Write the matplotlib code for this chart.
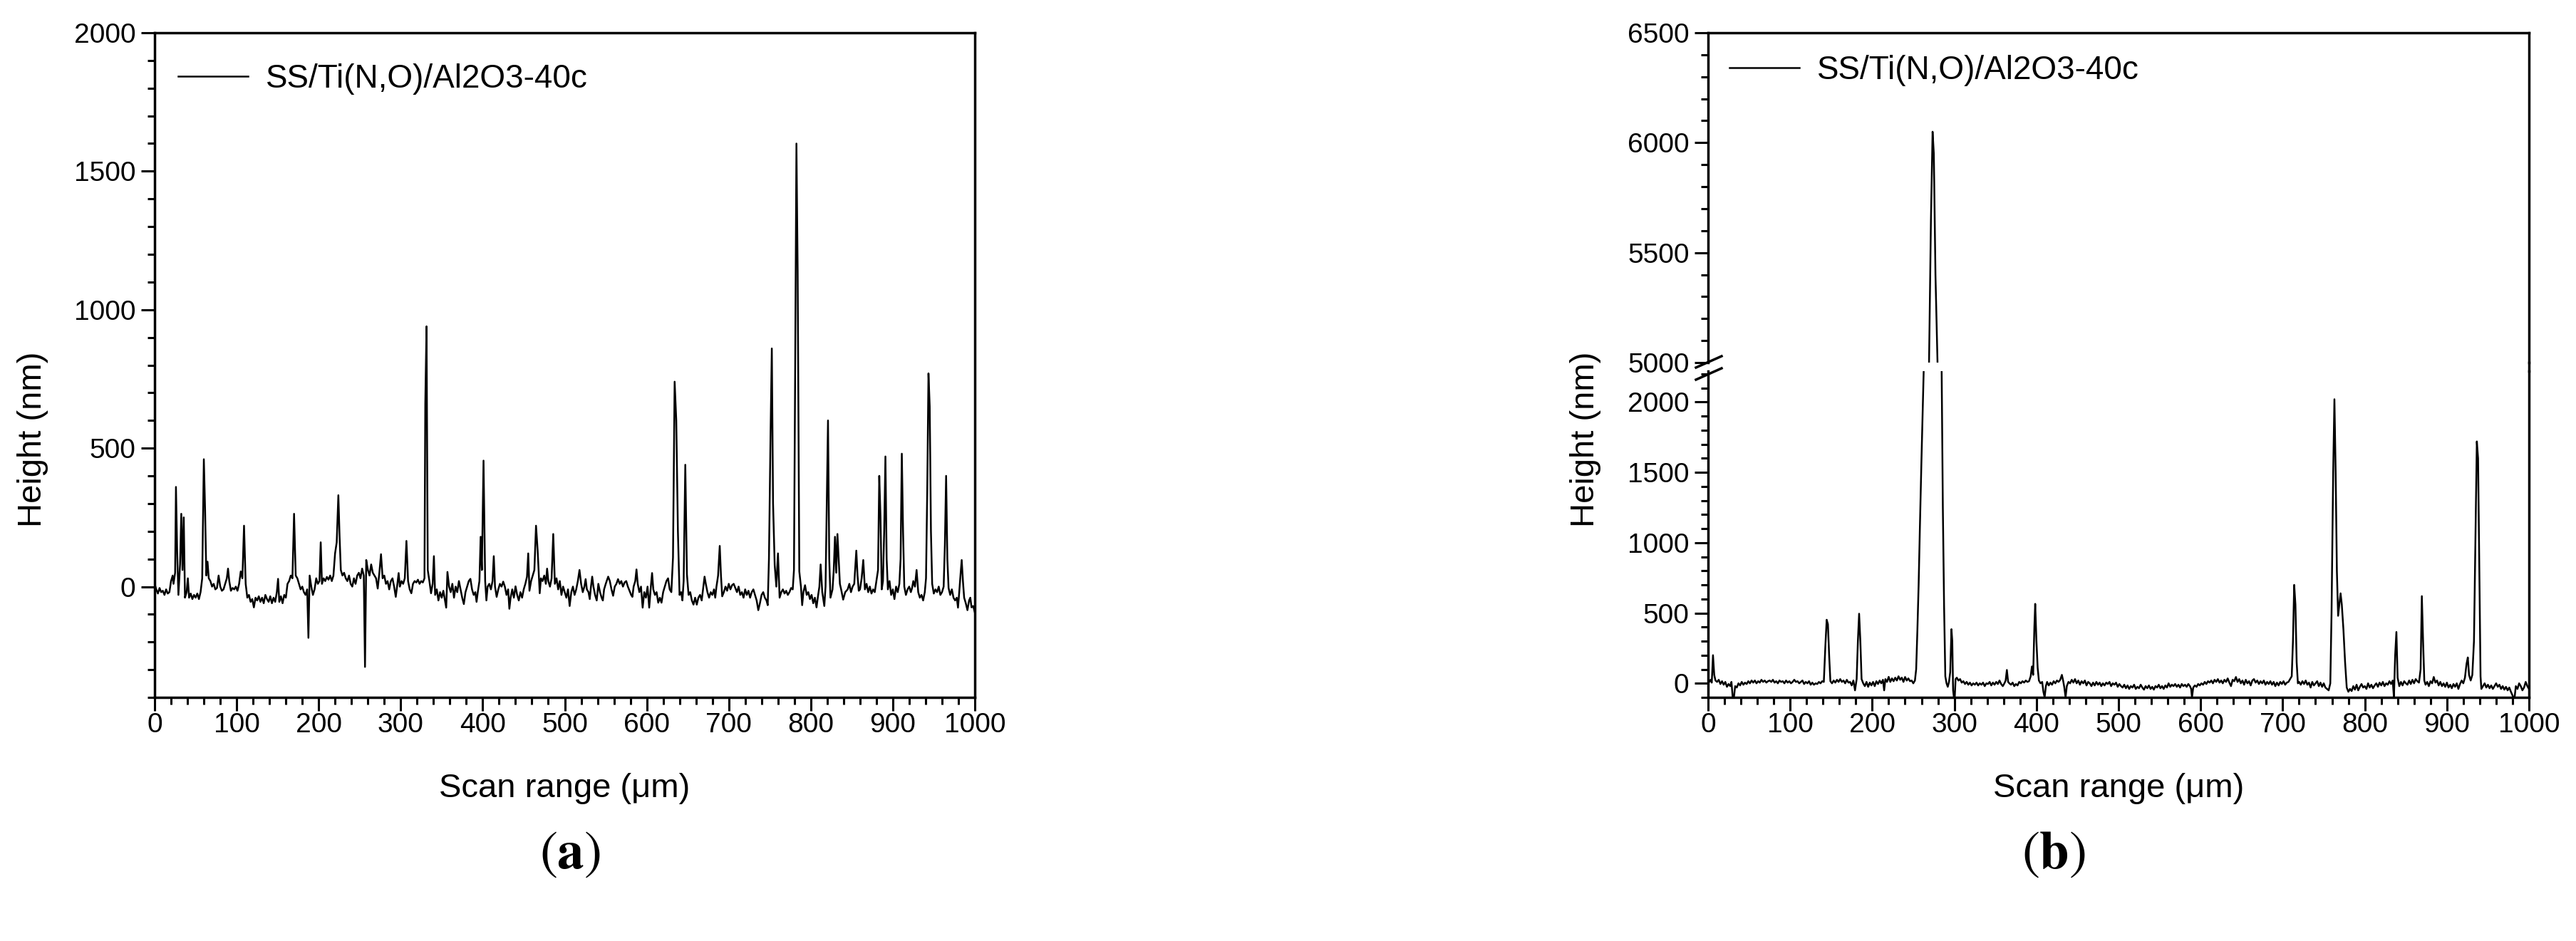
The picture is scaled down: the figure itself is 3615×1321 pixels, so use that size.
import matplotlib
matplotlib.use("Agg")
import matplotlib.pyplot as plt
from matplotlib.lines import Line2D
from matplotlib.ticker import MultipleLocator

plt.rcParams['font.family'] = ['Liberation Sans', 'DejaVu Sans']

# ---- panel (a): profile, scan position (um) / height (nm)
scan_a = [0, 2, 4, 6, 8, 10, 12, 14, 16, 18, 20, 22, 23, 25, 26,
          27.5, 29, 31, 32.5, 34, 35.5, 37, 39, 40.5, 42, 44, 46, 48, 50, 52,
          54, 56, 58, 60, 61.5, 63, 64.5, 66, 68, 70, 72, 74, 76, 78, 80,
          82, 84, 86, 88, 89.5, 91, 93, 95, 97, 99, 101, 103, 105, 107, 109,
          111, 113, 115, 117, 119, 121, 123, 125, 127, 129, 131, 133, 135, 137, 139,
          141, 143, 145, 147, 149, 150.5, 152, 154, 156, 158, 160, 162, 164, 166, 168,
          170, 172, 174, 176, 178, 180, 182, 184, 186, 187.5, 189, 191, 193, 195, 197,
          199, 201, 202.5, 204, 206, 208, 210, 212, 214, 216, 218, 220, 222, 224, 225.5,
          227, 229, 231, 233, 235, 237, 239, 241, 243, 245, 247, 249, 251, 253, 255,
          256.5, 258, 260, 262, 264, 266, 268, 270, 272, 274, 276, 278, 280, 282, 284,
          286, 288, 290, 292, 294, 296, 297.5, 299, 301, 303, 305, 307, 309, 311, 313,
          315, 317, 319, 321, 323, 325, 327, 329, 330, 331.5, 333, 335, 337, 339, 340.5,
          342, 344, 346, 348, 350, 352, 354, 355.5, 357, 359, 361, 363, 365, 367, 369,
          371, 373, 375, 377, 379, 381, 383, 385, 387, 389, 391, 392.5, 394, 396, 397.5,
          399, 401, 403, 404.5, 406, 408, 410, 412, 413.5, 415, 417, 419, 421, 423, 425,
          427, 429, 431, 432.5, 434, 436, 438, 440, 442, 444, 446, 448, 450, 452, 454,
          455.5, 457, 459, 461, 463, 465, 467, 469.5, 471, 473, 475, 477, 478.5, 480, 482,
          484, 486, 488, 490, 492, 494, 496, 498, 500, 502, 504, 506, 508, 510, 512,
          514, 516, 518, 520, 522, 524, 525.5, 527, 529, 530.5, 532, 533.5, 535, 537, 539,
          541, 543, 545, 546.5, 548, 550, 553, 555, 557, 559, 561, 563, 565, 567, 569,
          571, 573, 575, 577, 579, 581, 582.5, 584, 586, 587.5, 589, 591, 593, 595, 597,
          599, 601, 603, 605, 606.5, 608, 610, 612, 614, 616, 618, 620, 622, 624, 626,
          628, 630, 632, 634, 636, 638, 640, 642, 643.5, 645, 647, 649, 651, 653, 655,
          657, 659, 661, 663, 665, 667, 669, 670.5, 672, 674, 676, 678, 680, 682, 683.5,
          685, 687, 689, 690.5, 692, 694, 696, 698, 700, 702, 704, 706, 708, 710, 712,
          714, 716, 718, 720, 722, 724, 726, 728, 730, 732, 734, 736, 738, 740, 742,
          744, 746, 747.5, 749, 751, 752.5, 754, 756, 758, 760, 762, 764, 766, 768, 770,
          772, 774, 776, 778, 779.5, 781, 782.5, 784, 786, 788, 789.5, 791, 793, 795, 797,
          799, 801, 803, 805, 807, 809, 810.5, 812, 814, 816.5, 818, 819.5, 821, 822.5, 824,
          826.5, 828, 829.5, 831, 832.5, 834, 835.5, 837, 839.5, 842, 845, 847, 849, 851, 853,
          855.5, 857, 858.5, 860, 862, 864, 866, 868, 870, 872, 874, 876, 878, 880, 882,
          883.5, 885, 886.5, 888, 889.5, 891, 892.5, 894, 896, 898, 900, 902, 904, 906, 908,
          909.5, 911, 912.5, 914, 916, 918, 920, 922, 923.5, 925, 927, 929, 931, 933, 935,
          937, 939, 940.5, 942, 943.5, 945, 946.5, 948, 950, 952, 954, 956, 958, 960, 962,
          963.5, 965, 966.5, 968, 970, 972, 974, 976, 978, 979.5, 981, 982.5, 984, 985.5, 987,
          989, 991, 993, 994.5, 996, 998, 1000]
height_a = [10, -10, -25, -5, -20, -15, -30, -10, -25, -20, 20, 40, 10, 50, 360,
            120, -30, 80, 263, 60, 250, -40, -20, 30, -40, -25, -45, -30, -40, -25,
            -45, -20, 30, 460, 280, 40, 90, 30, 20, 0, 10, -10, -5, 40, 0,
            -15, -10, 10, 30, 65, 20, -15, -5, -10, 0, -15, 10, 55, 30, 220,
            10, -40, -30, -55, -45, -75, -40, -50, -35, -55, -40, -60, -30, -45, -55,
            -35, -60, -40, -55, -20, 28, -55, -35, -60, -30, -40, 10, 20, 40, 30,
            263, 40, 30, 10, -10, 0, -20, -30, -10, -185, 40, 0, -30, -10, 30,
            10, 20, 160, 10, 30, 20, 35, 25, 40, 20, 40, 120, 160, 330, 180,
            60, 40, 50, 30, 20, 40, 10, 0, 30, 10, 40, 50, 30, 65, 40,
            -290, 96, 60, 40, 80, 50, 40, 30, -7, 50, 117, 30, 40, 10, 20,
            -10, 20, 30, 0, -37, 10, 49, 0, 20, 10, 30, 165, 20, -10, -24,
            10, 20, 15, 25, 10, 20, 15, 30, 660, 940, 60, 20, -24, 10, 110,
            -30, -10, -50, -20, -40, -15, -50, -76, 53, 0, -20, 10, -40, 0, -20,
            20, -10, -40, -63, -20, 0, 20, 28, -10, -30, -20, -55, -20, 20, 180,
            60, 455, 20, -50, 0, 10, -10, 20, 110, 0, -37, -10, 10, 0, 18,
            0, -30, -10, -80, -40, -10, -40, 1, -30, -50, -20, -40, -10, 10, 36,
            120, -15, 20, 40, 60, 220, 130, -24, 30, 20, 40, 10, 65, 20, 0,
            30, 190, 10, 30, -10, 20, -30, 0, -20, -40, -10, -70, -20, 0, -30,
            -10, 20, 60, 10, -20, 0, 27, -10, -20, -45, 0, 36, 0, -30, -50,
            10, -20, -40, -50, -10, 10, 36, 20, -10, -33, 0, 10, 27, 10, 20,
            0, 15, 20, 0, -15, -30, -37, 0, 20, 62, 10, -20, 0, -76, -20,
            -40, 0, -76, 0, 49, -10, -30, -20, -58, -40, -58, -20, 0, 20, 30,
            -10, -20, 105, 740, 600, 200, -30, -20, -50, 20, 440, 44, -30, -20, -50,
            -65, -40, -65, -40, -30, -50, 0, 36, 10, -20, -40, -20, -30, -10, -40,
            0, 40, 147, 40, -35, -20, 0, -15, 10, -10, 5, 10, -5, -20, 0,
            -30, -20, -40, -10, -30, -15, -40, -20, -10, -30, -50, -85, -60, -30, -20,
            -40, -50, -67, 100, 560, 860, 300, 78, 0, 120, -40, -20, -10, -25, -15,
            -30, -20, -5, -10, 60, 800, 1600, 1140, 55, 0, -67, -20, 5, -30, -20,
            -45, -30, -60, -40, -75, -30, 0, 80, -20, -70, 0, 300, 600, 100, -40,
            -10, 60, 180, 50, 190, 100, 10, -10, -47, -20, -10, 10, -20, 0, 10,
            130, 40, -15, -10, 30, 96, -10, 10, -20, 0, -25, -10, -20, 20, 60,
            400, 250, -10, 20, 200, 470, 100, -10, 20, -30, -10, -45, 0, -20, 10,
            100, 480, 200, 0, -30, -10, 0, -20, -5, 20, 0, 60, -20, -40, -30,
            -50, -20, 30, 350, 770, 650, 200, 10, -25, -10, -20, 0, -30, -20, 0,
            150, 400, 100, -5, -30, -10, -40, -50, -40, -76, -20, 40, 96, 20, -40,
            -60, -85, -50, -40, -75, -70, -93]

# ---- panel (b)
scan_b = [0, 1.5, 3, 4.5, 6, 7.5, 9, 11, 13, 15, 17, 19, 21, 23, 25,
          27, 28.5, 30, 31.5, 33, 35, 37, 39, 41, 43, 45, 47, 49, 51, 53,
          55, 57, 59, 61, 63, 65, 67, 69, 71, 73, 75, 77, 79, 81, 83,
          85, 87, 89, 91, 93, 95, 97, 99, 101, 103, 105, 107, 109, 111, 113,
          115, 117, 119, 121, 123, 125, 127, 129, 131, 133, 135, 137, 139, 141, 143,
          144.5, 146, 147.5, 149, 151, 153, 155, 157, 159, 161, 163, 165, 167, 169, 171,
          173, 175, 177, 179, 181, 182.5, 184, 185.5, 187, 189, 191, 193, 195, 197, 199,
          201, 203, 205, 207, 209, 211, 213, 214.5, 216, 218, 220, 222, 224, 226, 228,
          230, 232, 234, 236, 238, 240, 242, 244, 246, 248, 250, 252, 253.5, 255, 256.5,
          258, 260, 261.5, 263, 269, 271.5, 273.5, 275, 277, 279.5, 282, 284.5, 286, 287.5, 289,
          290.5, 292, 293.5, 295, 296.5, 297.5, 298.5, 299.5, 300.5, 301.5, 303, 305, 307, 309, 311,
          313, 315, 317, 319, 321, 323, 325, 327, 329, 331, 333, 335, 337, 339, 341,
          343, 345, 347, 349, 351, 353, 355, 357, 359, 361, 362.5, 364, 365.5, 367, 369,
          371, 373, 375, 377, 379, 381, 383, 385, 387, 389, 391, 393, 394.5, 396, 397.5,
          398.5, 400, 401.5, 403, 405, 407, 408.5, 410, 411.5, 413, 415, 417, 419, 421, 423,
          425, 427, 429, 431, 432.5, 434, 435.5, 437, 439, 441, 443, 445, 447, 449, 451,
          453, 455, 457, 459, 461, 463, 465, 467, 469, 471, 473, 475, 477, 479, 481,
          483, 485, 487, 489, 491, 493, 495, 497, 499, 501, 503, 505, 507, 509, 511,
          513, 515, 517, 519, 521, 523, 525, 527, 529, 531, 533, 535, 537, 539, 541,
          543, 545, 547, 549, 551, 553, 555, 557, 559, 561, 563, 565, 567, 569, 571,
          573, 575, 577, 579, 581, 583, 585, 587, 588.5, 589.5, 591, 593, 595, 597, 599,
          601, 603, 605, 607, 609, 611, 613, 615, 617, 619, 621, 623, 625, 627, 629,
          631, 633, 635, 637, 639, 641, 643, 645, 647, 649, 651, 653, 655, 657, 659,
          661, 663, 665, 667, 669, 671, 673, 675, 677, 679, 681, 683, 685, 687, 689,
          691, 693, 695, 697, 699, 701, 703, 705, 707, 709, 711, 712.5, 714, 715.5, 717,
          718.5, 720, 722, 724, 726, 728, 730, 732, 734, 736, 738, 740, 742, 744, 746,
          748, 750, 752, 754, 756, 758, 759.5, 761.5, 763, 764.5, 766, 767.5, 769, 770.5, 772,
          774, 776, 778, 780, 782, 784, 786, 788, 790, 792, 794, 796, 798, 800, 802,
          804, 806, 808, 810, 812, 814, 816, 818, 820, 822, 824, 826, 828, 830, 832,
          834, 835.5, 837, 838.5, 840, 842, 844, 846, 848, 850, 852, 854, 856, 858, 860,
          862, 864, 866, 868, 869.5, 871, 872.5, 874, 876, 878, 880, 882, 884, 886, 888,
          890, 892, 894, 896, 898, 900, 902, 904, 906, 908, 910, 912, 914, 916, 918,
          920, 922, 924, 925.5, 927, 929, 931, 933, 935, 936.5, 938, 939.5, 941, 942, 944,
          946, 948, 950, 952, 954, 956, 958, 960, 962, 964, 966, 968, 970, 972, 974,
          976, 978, 979.5, 981, 982.5, 984, 986, 988, 990, 992, 994, 996, 998, 1000]
height_b = [40, 10, 25, 5, 200, 60, 20, 10, 25, -5, 15, -10, 10, -25, -5,
            -20, 10, -100, -100, -20, -30, 0, -15, 10, -10, 5, -5, 15, 0, 20,
            5, 20, 0, 15, 5, 25, 10, 20, 5, 15, 20, 10, 25, 5, 15,
            0, 20, 10, 15, 0, 20, 5, 15, 0, 10, 25, 10, 15, 0, 10,
            20, -5, 10, 0, 15, -10, 5, -10, 0, -5, 10, 0, 15, 10, 280,
            452, 420, 198, 15, 0, 20, 5, 25, 10, 30, 10, 20, 0, 25, 5,
            10, -15, 20, -50, 30, 300, 495, 300, 30, 0, -20, 10, -25, 5, -15,
            10, -20, 15, -5, 20, 0, 25, -50, 30, 10, 46, 10, 35, 15, 40,
            20, 50, 25, 40, 10, 45, 20, 35, 15, 20, 0, 20, 100, 380, 700,
            1100, 1600, 1950, 2300, 4950, 5650, 6050, 5950, 5400, 5000, 3800, 2250, 1250, 550, 50,
            0, -25, 10, 80, 385, 300, -50, -100, -100, 30, 40, 20, 30, 5, 15,
            -5, 10, -10, 5, -15, 0, -10, 5, -15, 0, -10, 5, -20, 0, -5,
            10, -15, 5, -10, 10, -5, 20, -5, -20, 0, 20, 95, 10, 0, -10,
            5, -20, -5, -15, 10, 0, 15, 5, 20, 10, 15, 50, 120, 60, 400,
            565, 300, 110, 20, 0, 10, -60, -100, -20, 10, -15, 5, -10, 15, 0,
            20, 10, 25, 60, 20, -30, -100, -20, 10, 0, 25, 5, 30, 0, 20,
            -10, 15, 0, 20, -15, 10, 0, -20, 5, -15, 10, -10, 5, -20, 0,
            -15, 5, -5, 10, -20, 0, -10, 5, -25, -5, -20, -30, -10, -35, -15,
            -40, -20, -30, -10, -40, -25, -35, -10, -30, -45, -20, -35, -15, -40, -25,
            -45, -20, -30, -10, -35, -20, -40, -15, -30, 0, -25, -10, -20, -5, -25,
            -10, -30, -5, -20, -10, -25, -5, -20, -40, -100, -30, -15, -25, -5, -15,
            0, -10, 10, -5, 15, 5, 20, 0, 25, 10, 30, 5, 20, 0, 25,
            10, 35, 5, -20, 25, 15, 45, 10, 30, 0, 20, -10, 25, 0, 15,
            -15, 20, 30, 5, 20, -5, 15, 0, 20, -10, 10, -5, 15, -10, 10,
            -20, 5, -15, 10, -5, 15, -10, 5, 10, 30, 50, 300, 700, 560, 150,
            0, 10, -10, 15, -5, 20, -10, 5, -30, 10, -15, 0, 15, -20, 5,
            -25, 0, -30, -40, -50, 0, 500, 1500, 2020, 1500, 800, 480, 560, 640, 560,
            380, 150, -30, -60, -40, -55, -20, -45, -10, -50, -25, -5, -30, -20, -40,
            0, -30, -10, -35, -15, 0, -25, 5, -15, 10, -20, 0, -10, 15, -5,
            20, -100, 200, 365, 40, -20, 10, -15, 15, 0, -10, 20, -5, 25, 0,
            30, 15, 5, 100, 620, 300, 20, -10, 10, -20, 15, 0, 45, 5, 20,
            -15, 10, -20, 0, -25, 5, -30, -10, -35, -5, -25, 0, -40, -5, 20,
            0, 40, 140, 184, 60, 20, 60, 300, 1100, 1720, 1600, 800, 50, -40, -20,
            0, -30, -10, -35, -15, -40, -20, 0, -25, -10, -40, -20, -45, -25, -50,
            -30, -60, -80, -100, -100, -20, -40, 0, -20, -50, -30, 10, -20, -40]

legend_label = 'SS/Ti(N,O)/Al2O3-40c'
x_label = 'Scan range (μm)'
y_label = 'Height (nm)'

W, H = 3615, 1321
fig = plt.figure(figsize=(W / 100, H / 100), dpi=100)


def fx(px):
    return px / W


def fy(py):
    return 1 - py / H


def style(ax, show_x=True):
    for s in ax.spines.values():
        s.set_linewidth(2.5)
    ax.tick_params(which='both', direction='out', width=2.2, labelsize=28,
                   top=False, right=False)
    ax.tick_params(which='major', length=14)
    ax.tick_params(which='minor', length=7)
    ax.tick_params(axis='y', pad=5)
    ax.tick_params(axis='x', pad=1)
    ax.set_xlim(0, 1000)
    ax.xaxis.set_major_locator(MultipleLocator(100))
    ax.xaxis.set_minor_locator(MultipleLocator(20))
    ax.yaxis.set_minor_locator(MultipleLocator(100))
    if not show_x:
        ax.tick_params(axis='x', which='both', bottom=False, labelbottom=False)


lw = 1.8

# (a)
ax_a = fig.add_axes([fx(217), fy(979), fx(1368 - 217), (979 - 46) / H])
ax_a.plot(scan_a, height_a, color='black', lw=lw, label=legend_label)
style(ax_a)
ax_a.set_ylim(-400, 2000)
ax_a.set_yticks([0, 500, 1000, 1500, 2000])
ax_a.legend(loc='center left', bbox_to_anchor=(0.0287, 0.930), frameon=False,
            fontsize=33, handlelength=2.14, handletextpad=0.55,
            borderpad=0, borderaxespad=0)

# (b) broken axis
ax_lo = fig.add_axes([fx(2397), fy(979), fx(3549 - 2397), (979 - 521) / H])
ax_hi = fig.add_axes([fx(2397), fy(509), fx(3549 - 2397), (509 - 46) / H])
ax_lo.plot(scan_b, height_b, color='black', lw=lw)
ax_hi.plot(scan_b, height_b, color='black', lw=lw, label=legend_label)
style(ax_lo)
style(ax_hi, show_x=False)
ax_lo.set_ylim(-100, 2220)
ax_lo.set_yticks([0, 500, 1000, 1500, 2000])
ax_hi.set_ylim(5000, 6500)
ax_hi.set_yticks([5000, 5500, 6000, 6500])
ax_lo.spines['top'].set_visible(False)
ax_hi.spines['bottom'].set_visible(False)
ax_hi.legend(loc='center left', bbox_to_anchor=(0.026, 0.8855), frameon=False,
             fontsize=33, handlelength=2.14, handletextpad=0.55,
             borderpad=0, borderaxespad=0)

# continuous right spine across the break, and the break marks on the left
fig.add_artist(Line2D([fx(3549)] * 2, [fy(521), fy(509)], color='black', lw=2.5))
for y0, y1 in [(516, 500), (533, 517)]:
    fig.add_artist(Line2D([fx(2380), fx(2416)], [fy(y0), fy(y1)],
                          color='black', lw=2.5))

# axis titles
for cx, ycx in [(792, 46), (2973, 2225)]:
    fig.text(fx(cx), fy(1107), x_label, ha='center', va='center', fontsize=34)
    fig.text(fx(ycx), fy(617), y_label, ha='center', va='center',
             rotation=90, fontsize=34)

# panel letters
fig.text(fx(800), fy(1199), r'$(\mathbf{a})$', ha='center', va='center',
         fontsize=54, math_fontfamily='stix')
fig.text(fx(2882), fy(1199), r'$(\mathbf{b})$', ha='center', va='center',
         fontsize=54, math_fontfamily='stix')

fig.savefig('out.png', dpi=100)
